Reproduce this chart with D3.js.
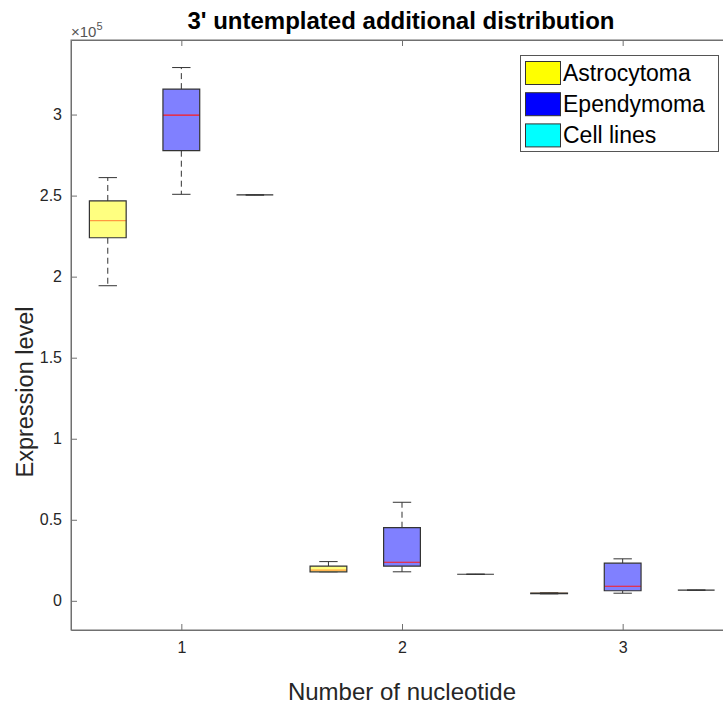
<!DOCTYPE html>
<html>
<head>
<meta charset="utf-8">
<script src="https://cdn.jsdelivr.net/npm/d3@7"></script>
<style>
  html, body { margin: 0; padding: 0; background: #fff; }
  svg { display: block; font-family: "Liberation Sans", Arial, Helvetica, sans-serif; }
</style>
</head>
<body>
<svg id="chart" width="723" height="709"></svg>
<script>
// Groups along the x axis (number of untemplated nucleotides)
const categories = [1, 2, 3];
const seriesNames = ["Astrocytoma", "Ependymoma", "Cell lines"];

// Box statistics per series, one entry per category: [min, q1, median, q3, max]
const astrocytoma = [
  [194400, 224000, 234600, 246700, 261100],
  [17900, 17900, 19000, 21400, 24200],
  [4300, 4500, 4650, 4800, 5000]
];
const ependymoma = [
  [250800, 277700, 299700, 315700, 329000],
  [17900, 21400, 23800, 45100, 60800],
  [4700, 6200, 9000, 23200, 25900]
];
const cellLines = [
  [250400, 250400, 250400, 250400, 250400],
  [16400, 16400, 16400, 16400, 16400],
  [6600, 6600, 6600, 6600, 6600]
];

const yTicks = [0, 50000, 100000, 150000, 200000, 250000, 300000];
const yTickLabels = ["0", "0.5", "1", "1.5", "2", "2.5", "3"];

const seriesData = [astrocytoma, ependymoma, cellLines];

// Appearance per series
const styles = [
  { fill: "#ffff80", swatch: "#ffff00", median: "#ff9a40", offset: -1 / 3 },
  { fill: "#8080ff", swatch: "#0000ff", median: "#ff1a1a", offset: 0 },
  { fill: "#80ffff", swatch: "#00ffff", median: "#ff1a1a", offset: 1 / 3 }
];

const svg = d3.select("#chart");
const axisColor = "#707070";
const textColor = "#262626";

const plot = { left: 71, right: 733, top: 40, bottom: 630 };

const x = d3.scaleLinear().domain([0.5, 3.5]).range([plot.left, plot.right]);
const y = d3.scaleLinear().domain([-18000, 346000]).range([plot.bottom, plot.top]);

const boxWidth = 1 / 6;

// Title
svg.append("text")
  .attr("x", 401)
  .attr("y", 29)
  .attr("text-anchor", "middle")
  .attr("font-size", 24)
  .attr("font-weight", "bold")
  .attr("fill", "#000")
  .text("3' untemplated additional distribution");

// Plot frame
const g = svg.append("g");
g.append("rect")
  .attr("x", plot.left).attr("y", plot.top)
  .attr("width", plot.right - plot.left).attr("height", plot.bottom - plot.top)
  .attr("fill", "#fff").attr("stroke", axisColor).attr("stroke-width", 1);

// Boxes
const boxes = g.append("g");
seriesData.forEach((series, si) => {
  const st = styles[si];
  series.forEach((s, ci) => {
    const [mn, q1, md, q3, mx] = s;
    const cx = x(categories[ci] + st.offset);
    const halfW = (x(boxWidth) - x(0)) / 2;
    const capW = halfW / 2;
    const grp = boxes.append("g");
    // whiskers
    grp.append("line")
      .attr("x1", cx).attr("x2", cx).attr("y1", y(q3)).attr("y2", y(mx))
      .attr("stroke", "#333").attr("stroke-dasharray", "6,4");
    grp.append("line")
      .attr("x1", cx).attr("x2", cx).attr("y1", y(q1)).attr("y2", y(mn))
      .attr("stroke", "#333").attr("stroke-dasharray", "6,4");
    // whisker caps
    [mn, mx].forEach(v => {
      grp.append("line")
        .attr("x1", cx - capW).attr("x2", cx + capW)
        .attr("y1", y(v)).attr("y2", y(v))
        .attr("stroke", "#333");
    });
    // box fill
    grp.append("rect")
      .attr("x", cx - halfW).attr("y", y(q3))
      .attr("width", 2 * halfW).attr("height", Math.max(0, y(q1) - y(q3)))
      .attr("fill", st.fill);
    // median (hidden by the outline when the box has collapsed to one value)
    if (q3 > q1) {
      grp.append("line")
        .attr("x1", cx - halfW).attr("x2", cx + halfW)
        .attr("y1", y(md)).attr("y2", y(md))
        .attr("stroke", st.median).attr("stroke-width", 1.2);
    }
    // box outline (a path, so a collapsed box still draws as a line)
    const x0 = cx - halfW, x1 = cx + halfW;
    grp.append("path")
      .attr("d", `M${x0},${y(q3)}H${x1}V${y(q1)}H${x0}Z`)
      .attr("fill", "none").attr("stroke", "#333").attr("stroke-width", 1.2);
  });
});

// Y axis (ticks inside)
const yAxis = d3.axisLeft(y)
  .tickValues(yTicks)
  .tickFormat((d, i) => yTickLabels[i])
  .tickSizeInner(-6).tickSizeOuter(0).tickPadding(9);
const ya = svg.append("g").attr("transform", `translate(${plot.left},0)`).call(yAxis);
ya.select(".domain").attr("stroke", axisColor);
ya.selectAll(".tick line").attr("stroke", axisColor);
ya.selectAll(".tick text").attr("font-size", 16).attr("fill", textColor)
  .attr("font-family", "Liberation Sans, Arial, sans-serif");

// X axis, bottom and top ticks
const xAxis = d3.axisBottom(x)
  .tickValues(categories)
  .tickFormat(d3.format("d"))
  .tickSizeInner(-6).tickSizeOuter(0).tickPadding(12);
const xa = svg.append("g").attr("transform", `translate(0,${plot.bottom})`).call(xAxis);
xa.select(".domain").attr("stroke", axisColor);
xa.selectAll(".tick line").attr("stroke", axisColor);
xa.selectAll(".tick text").attr("font-size", 16).attr("fill", textColor)
  .attr("font-family", "Liberation Sans, Arial, sans-serif");

const xTop = d3.axisTop(x).tickValues(categories).tickFormat("").tickSizeInner(-6).tickSizeOuter(0);
const xt = svg.append("g").attr("transform", `translate(0,${plot.top})`).call(xTop);
xt.select(".domain").attr("stroke", axisColor);
xt.selectAll(".tick line").attr("stroke", axisColor);

// Exponent label
const expo = svg.append("text")
  .attr("x", 71).attr("y", 37)
  .attr("font-size", 15).attr("fill", "#555");
expo.append("tspan").text("\u00d710");
expo.append("tspan").attr("font-size", 11).attr("dy", -7).text("5");

// Axis labels
svg.append("text")
  .attr("x", 402).attr("y", 700)
  .attr("text-anchor", "middle").attr("font-size", 24).attr("fill", textColor)
  .text("Number of nucleotide");

svg.append("text")
  .attr("transform", `translate(33,392) rotate(-90)`)
  .attr("text-anchor", "middle").attr("font-size", 23.5).attr("fill", textColor)
  .text("Expression level");

// Legend
const legend = svg.append("g");
legend.append("rect")
  .attr("x", 520.5).attr("y", 55.5).attr("width", 198).attr("height", 96)
  .attr("fill", "#fff").attr("stroke", "#555");
seriesNames.forEach((name, i) => {
  const yy = 61 + i * 31.2;
  legend.append("rect")
    .attr("x", 525.5).attr("y", yy + 0.5).attr("width", 35).attr("height", 23)
    .attr("fill", styles[i].swatch).attr("stroke", "#333");
  legend.append("text")
    .attr("x", 563).attr("y", yy + 20)
    .attr("font-size", 23).attr("fill", "#000")
    .text(name);
});
</script>
</body>
</html>
